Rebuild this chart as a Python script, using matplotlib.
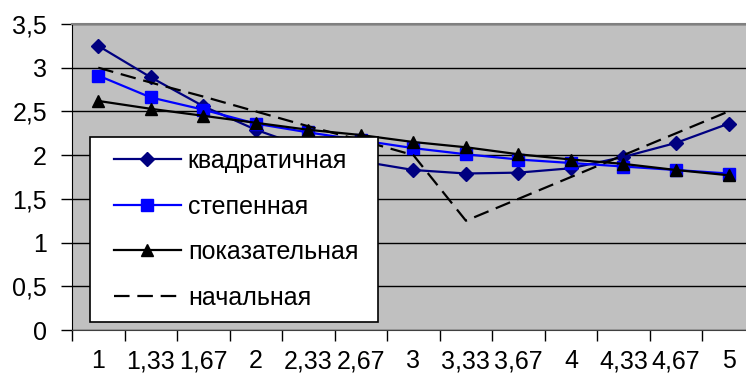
import matplotlib
matplotlib.use("Agg")
import matplotlib.pyplot as plt
from matplotlib.legend_handler import HandlerLine2D
import numpy as np

plt.rcParams['font.family'] = ['Liberation Sans', 'DejaVu Sans']

categories = ['1', '1,33', '1,67', '2', '2,33', '2,67', '3', '3,33', '3,67', '4', '4,33', '4,67', '5']
quadratic = [3.25, 2.89, 2.56, 2.29, 2.08, 1.93, 1.83, 1.79, 1.80, 1.85, 1.98, 2.14, 2.36]
power = [2.91, 2.66, 2.52, 2.36, 2.26, 2.17, 2.08, 2.01, 1.95, 1.91, 1.87, 1.83, 1.79]
exponential = [2.62, 2.53, 2.45, 2.37, 2.29, 2.23, 2.15, 2.09, 2.01, 1.95, 1.90, 1.83, 1.77]
initial = [3.0, 2.83, 2.67, 2.5, 2.33, 2.17, 2.0, 1.25, 1.5, 1.75, 2.0, 2.25, 2.5]
series_names = ['квадратичная', 'степенная', 'показательная', 'начальная']
yticks = [0, 0.5, 1, 1.5, 2, 2.5, 3, 3.5]
ytick_labels = ['0', '0,5', '1', '1,5', '2', '2,5', '3', '3,5']

W, H = 746, 376
fig = plt.figure(figsize=(W / 100, H / 100), dpi=100)
left, right, top, bottom = 72, 754.8, 24, 330
ax = fig.add_axes([left / W, (H - bottom) / H, (right - left) / W, (bottom - top) / H])
ax.set_facecolor('#C0C0C0')

x = np.arange(len(categories))
ax.plot(x, quadratic, color='#000080', lw=1.6, marker='D', ms=7, mec='#000080', mfc='#000080', label=series_names[0], zorder=4)
ax.plot(x, power, color='#0000FF', lw=1.6, marker='s', ms=8, mec='#0000FF', mfc='#0000FF', label=series_names[1], zorder=4)
ax.plot(x, exponential, color='black', lw=1.6, marker='^', ms=8, mec='black', mfc='black', label=series_names[2], zorder=4)
ax.plot(x, initial, color='black', lw=1.6, ls=(0, (7, 3.5)), label=series_names[3], zorder=4)

ax.set_xlim(-0.5, len(categories) - 0.5)
ax.set_ylim(0, 3.5)
ax.set_yticks(yticks)
ax.set_yticklabels(ytick_labels)
ax.yaxis.grid(True, color='black', lw=1.0)
ax.set_axisbelow(True)
ax.set_xticks(x)
ax.set_xticklabels(categories)
ax.set_xticks(np.arange(-0.5, len(categories)), minor=True)
ax.tick_params(axis='x', which='major', length=0, pad=14, labelsize=18)
ax.tick_params(axis='x', which='minor', length=8, width=1, direction='out')
ax.tick_params(axis='y', length=8, width=1, direction='out', pad=10, labelsize=18)

for s in ['top', 'right']:
    ax.spines[s].set_color('#808080')
    ax.spines[s].set_linewidth(1.5)
ax.spines['left'].set_color('black')
ax.spines['bottom'].set_color('#404040')

fs = 18
xpad = 0.44
handler = {l: HandlerLine2D(xpad=xpad) for l in ax.get_lines()}
box_x0, box_x1, box_y0, box_y1 = 90, 378, 136.7, 320
leg = ax.legend(loc='upper left',
                bbox_to_anchor=(box_x0 / W, (H - box_y1) / H, (box_x1 - box_x0) / W, (box_y1 - box_y0) / H),
                bbox_transform=fig.transFigure, mode='expand', handler_map=handler,
                fontsize=fs, frameon=True, fancybox=False, framealpha=1, edgecolor='black',
                handlelength=2.7 + xpad, handletextpad=0.27, labelspacing=0.86, borderpad=0.5, borderaxespad=0)
leg.get_frame().set_linewidth(1.2)
leg.set_zorder(10)

fig.savefig('out.png', dpi=100)
